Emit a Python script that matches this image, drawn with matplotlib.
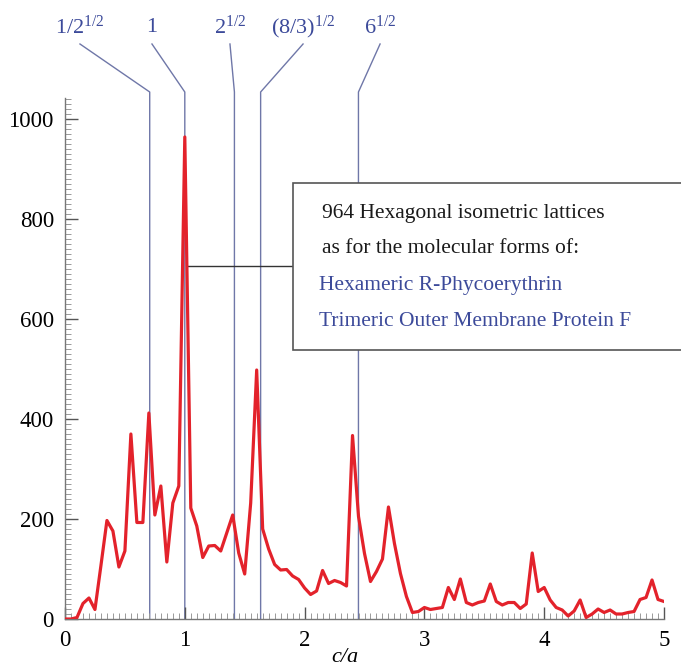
import matplotlib
matplotlib.use("Agg")
import matplotlib.pyplot as plt
from matplotlib.ticker import MultipleLocator
import numpy as np

plt.rcParams['font.family'] = ['Liberation Serif', 'DejaVu Serif']
plt.rcParams['mathtext.fontset'] = 'custom'
plt.rcParams['mathtext.rm'] = 'Liberation Serif'
plt.rcParams['mathtext.it'] = 'Liberation Serif:italic'

# c/a histogram, sampled every 0.05
ca = np.round(np.arange(0, 5.0001, 0.05), 2)
counts = [
    0, 0, 3, 31, 42, 19, 107, 197, 176, 104,
    136, 370, 193, 193, 412, 208, 266, 114, 232, 266,
    964, 222, 186, 123, 146, 147, 136, 172, 208, 132,
    90, 232, 498, 180, 140, 109, 98, 99, 86, 79,
    62, 49, 56, 97, 71, 77, 73, 66, 367, 205,
    131, 75, 95, 120, 224, 151, 91, 45, 13, 15,
    23, 19, 21, 23, 63, 39, 80, 33, 28, 33,
    36, 70, 35, 28, 33, 33, 21, 30, 132, 55,
    63, 38, 23, 18, 6, 16, 38, 3, 10, 20,
    13, 18, 10, 10, 13, 15, 39, 43, 78, 39,
    35,
]

ratio_vals = [2 ** -0.5, 1.0, 2 ** 0.5, (8 / 3) ** 0.5, 6 ** 0.5]
ratio_labels = [r'$1/2^{1/2}$', '1', r'$2^{1/2}$', r'$(8/3)^{1/2}$', r'$6^{1/2}$']
label_x = [0.125, 0.726, 1.377, 1.987, 2.63]

box_lines = ['964 Hexagonal isometric lattices',
             'as for the molecular forms of:',
             'Hexameric R-Phycoerythrin',
             'Trimeric Outer Membrane Protein F']

W, H = 681, 666
fig = plt.figure(figsize=(W / 100, H / 100), dpi=100)
ax = fig.add_axes([65 / W, 1 - 619 / H, 599 / W, 521 / H])

line_col = '#6f77a8'
label_col = '#3c4a9a'

for xv, lx, lab in zip(ratio_vals, label_x, ratio_labels):
    ax.plot([xv, xv, lx], [0, 1054, 1150], color=line_col, lw=1.0,
            clip_on=False, zorder=1)
    ax.text(lx, 1183, lab, color=label_col, fontsize=16, ha='center',
            va='center')

ax.plot(ca, counts, color='#e3222b', lw=2.3, zorder=3)

ax.set_xlim(0, 5)
ax.set_ylim(0, 1042)
ax.xaxis.set_major_locator(MultipleLocator(1))
ax.xaxis.set_minor_locator(MultipleLocator(0.05))
ax.yaxis.set_major_locator(MultipleLocator(200))
ax.yaxis.set_minor_locator(MultipleLocator(10))

for s in ['top', 'right']:
    ax.spines[s].set_visible(False)
for s in ['left', 'bottom']:
    ax.spines[s].set_color('#777777')
    ax.spines[s].set_linewidth(1.0)

ax.tick_params(which='major', direction='in', length=9, width=1.0,
               color='#555555', labelsize=16.5, pad=8)
ax.tick_params(which='minor', direction='in', length=4, width=0.7,
               color='#999999')

# annotation box
bx0, by0 = 293, 183
bx1, by1 = 690, 350
ax.add_patch(plt.Rectangle((bx0 / W, 1 - by1 / H), (bx1 - bx0) / W,
                           (by1 - by0) / H, transform=fig.transFigure,
                           fill=True, facecolor='white', edgecolor='#555555',
                           lw=1.2, zorder=4, clip_on=False))
ax.plot([1.03, (bx0 - 65) / 119.8], [706, 706], color='#333333', lw=1.0,
        zorder=2)

text_y = [213, 249, 285, 321]
text_x = [322, 322, 319, 319]
text_c = ['#1a1a1a', '#1a1a1a', label_col, label_col]
for t, ty, tx, tc in zip(box_lines, text_y, text_x, text_c):
    fig.text(tx / W, 1 - ty / H, t, color=tc, fontsize=15.5, ha='left',
             va='center', zorder=5)

fig.text(345 / W, 1 - 657 / H, 'c/a', style='italic', fontsize=16,
         ha='center', va='center')

fig.savefig('out.png', dpi=100)
